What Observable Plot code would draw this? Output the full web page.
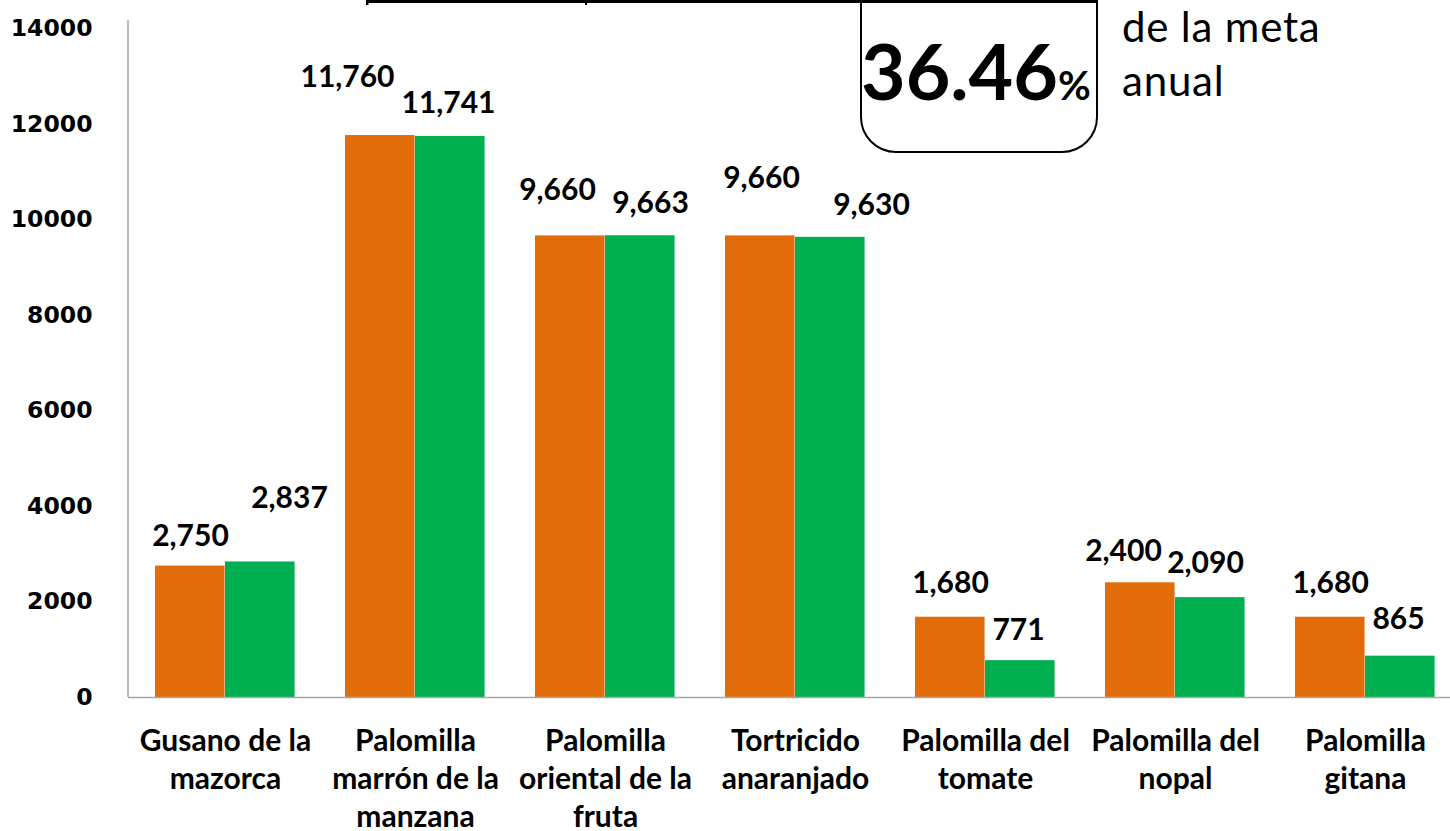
<!DOCTYPE html>
<html>
<head>
<meta charset="utf-8">
<script src="https://cdn.jsdelivr.net/npm/d3@7"></script>
<script src="https://cdn.jsdelivr.net/npm/@observablehq/plot@0.6"></script>
<style>
  html, body { margin: 0; padding: 0; background: #fff; overflow: hidden; }
  #chart { position: relative; width: 1450px; height: 831px; }
  #chart > svg { position: absolute; left: 0; top: 0; }
  #overlay { position: absolute; left: 0; top: 0; pointer-events: none; }
</style>
</head>
<body>
<div id="chart"></div>
<script>
// ---- data ----
const categories = [
  "Gusano de la mazorca",
  "Palomilla marrón de la manzana",
  "Palomilla oriental de la fruta",
  "Tortricido anaranjado",
  "Palomilla del tomate",
  "Palomilla del nopal",
  "Palomilla gitana"
];
const categoryLabels = [
  "Gusano de la\nmazorca",
  "Palomilla\nmarrón de la\nmanzana",
  "Palomilla\noriental de la\nfruta",
  "Tortricido\nanaranjado",
  "Palomilla del\ntomate",
  "Palomilla del\nnopal",
  "Palomilla\ngitana"
];
const programado = [2750, 11760, 9660, 9660, 1680, 2400, 1680];
const realizado  = [2837, 11741, 9663, 9630, 771, 2090, 865];
const yTicks = [0, 2000, 4000, 6000, 8000, 10000, 12000, 14000];
const percentText = "36.46";
const percentSign = "%";
const noteLines = ["de la meta", "anual"];

// ---- layout (label nudges in px, relative to bar top) ----
const nudgeA = [[0,-30],[-33,-58],[-13,-45],[1,-57],[0,-34],[-17,-31],[0,-34]];
const nudgeB = [[29,-64],[-2,-33],[10,-32],[41,-32],[-2,-30],[-5,-34],[-2,-37]];

const rows = categories.map((c, i) => ({cat: c, a: programado[i], b: realizado[i], i}));
const labelOf = new Map(categories.map((c, i) => [c, categoryLabels[i]]));
const fmt = d3.format(",");

const W = 1450, H = 831;
const xRange = [128, 1461];
const bw = (xRange[1] - xRange[0]) / categories.length;
const orange = "#E36C0A", green = "#00B050";
const textFont = "Lato, Carlito, Calibri, sans-serif";

const valueLabels = [];
rows.forEach((r, i) => {
  valueLabels.push(Plot.text([r], {
    x: "cat", y: "a", text: d => fmt(d.a),
    dx: -35 + nudgeA[i][0], dy: nudgeA[i][1],
    fontSize: 30, fontWeight: "bold", fontFamily: textFont, fill: "#000", lineAnchor: "middle"
  }));
  valueLabels.push(Plot.text([r], {
    x: "cat", y: "b", text: d => fmt(d.b),
    dx: 35 + nudgeB[i][0], dy: nudgeB[i][1],
    fontSize: 30, fontWeight: "bold", fontFamily: textFont, fill: "#000", lineAnchor: "middle"
  }));
});

const plot = Plot.plot({
  width: W,
  height: H,
  marginTop: 28,
  marginBottom: 134,
  marginLeft: 128,
  marginRight: 0,
  style: {background: "transparent", overflow: "visible"},
  x: {type: "band", domain: categories, range: xRange, padding: 0},
  y: {domain: [0, 14000]},
  marks: [
    Plot.barY(rows, {x: "cat", y: "a", fill: orange, insetLeft: 25, insetRight: bw - 95}),
    Plot.barY(rows, {x: "cat", y: "b", fill: green, insetLeft: 95, insetRight: bw - 165}),
    Plot.ruleY([0], {stroke: "#a6a6a6", strokeWidth: 1.5}),
    Plot.axisY({
      ticks: yTicks, tickSize: 0, tickPadding: 36, label: null,
      tickFormat: d => String(d),
      fontSize: 23.5, fontWeight: "bold", fontFamily: "DejaVu Sans", fill: "#000"
    }),
    Plot.axisX({
      tickSize: 0, tickPadding: 26, label: null,
      tickFormat: d => labelOf.get(d),
      fontSize: 30, fontWeight: "bold", fontFamily: textFont, fill: "#000", lineHeight: 1.27
    }),
    ...valueLabels
  ]
});

const chart = document.getElementById("chart");
chart.appendChild(plot);

// y-axis line drawn from the scales
const svg = d3.select(plot);
const ys = plot.scale("y");
const x0 = xRange[0];
svg.append("line")
  .attr("x1", x0).attr("x2", x0)
  .attr("y1", ys.apply(14000) - 8).attr("y2", ys.apply(0))
  .attr("stroke", "#a6a6a6").attr("stroke-width", 1.5);

// ---- top annotation (callout box) in an overlay svg ----
const ov = d3.select(chart).append("svg")
  .attr("id", "overlay")
  .attr("width", W).attr("height", H)
  .attr("viewBox", `0 0 ${W} ${H}`);
// top edge of the cut-off table above the chart
ov.append("rect").attr("x", 366).attr("y", 0).attr("width", 732).attr("height", 3).attr("fill", "#000");
ov.append("rect").attr("x", 366).attr("y", 0).attr("width", 2.5).attr("height", 5).attr("fill", "#000");
ov.append("rect").attr("x", 585).attr("y", 0).attr("width", 2).attr("height", 5).attr("fill", "#000");
ov.append("path")
  .attr("d", "M861,0 V117 A35,35 0 0 0 896,152 H1062 A35,35 0 0 0 1097,117 V0")
  .attr("fill", "none").attr("stroke", "#000").attr("stroke-width", 2);
const pt = ov.append("text")
  .attr("x", 861).attr("y", 100).attr("text-anchor", "start")
  .attr("font-family", textFont).attr("font-weight", "bold").attr("fill", "#000");
pt.append("tspan").attr("font-size", 77).text(percentText);
pt.append("tspan").attr("font-size", 40).text(percentSign);
ov.append("text").attr("x", 1122).attr("y", 42).attr("text-anchor", "start")
  .attr("font-family", textFont).attr("font-size", 42).attr("letter-spacing", 0.8).attr("fill", "#000")
  .text(noteLines[0]);
ov.append("text").attr("x", 1122).attr("y", 96).attr("text-anchor", "start")
  .attr("font-family", textFont).attr("font-size", 42).attr("letter-spacing", 0.8).attr("fill", "#000")
  .text(noteLines[1]);
</script>
</body>
</html>
